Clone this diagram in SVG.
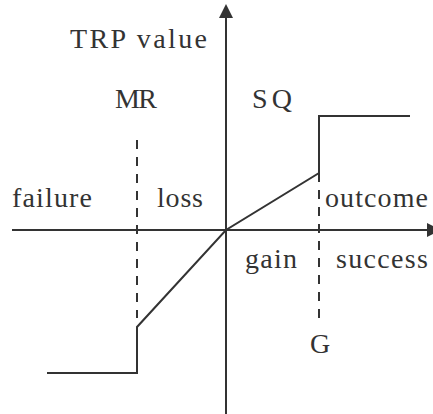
<svg xmlns="http://www.w3.org/2000/svg" width="433" height="414" viewBox="0 0 433 414">
<style>
.ax{stroke:#333;stroke-width:2;fill:none}
.ln{stroke:#333;stroke-width:2;fill:none;stroke-linejoin:miter}
.ds{stroke:#333;stroke-width:2;fill:none;stroke-dasharray:9 8}
.hd{fill:#333}
text{font-family:"Liberation Serif","Times New Roman",serif;font-size:28px;fill:#333}
</style>
<rect width="433" height="414" fill="#fff"/>
<g id="connectors">
<line class="ax" x1="12" y1="230" x2="428" y2="230"/>
<polygon class="hd" points="427,223 441,230 427,237"/>
<line class="ax" x1="226" y1="414" x2="226" y2="17"/>
<polygon class="hd" points="219,18 226,4 233,18"/>
<line class="ds" x1="137" y1="140" x2="137" y2="318"/>
<line class="ds" x1="319" y1="173" x2="319" y2="321"/>
<polyline class="ln" points="47,373 137,373 137,327 226,230 319,173 319,116 410,116"/>
</g>
<g id="labels">
<text x="70" y="48" textLength="137" lengthAdjust="spacing">TRP value</text>
<text x="115" y="108" textLength="42" lengthAdjust="spacing">MR</text>
<text x="252" y="108" textLength="40" lengthAdjust="spacing">SQ</text>
<text x="12" y="207" textLength="80" lengthAdjust="spacing">failure</text>
<text x="157" y="207" textLength="46" lengthAdjust="spacing">loss</text>
<text x="325" y="207" textLength="103" lengthAdjust="spacing">outcome</text>
<text x="245" y="268" textLength="52" lengthAdjust="spacing">gain</text>
<text x="336" y="268" textLength="92" lengthAdjust="spacing">success</text>
<text x="310" y="353" textLength="19" lengthAdjust="spacing">G</text>
</g>
</svg>
